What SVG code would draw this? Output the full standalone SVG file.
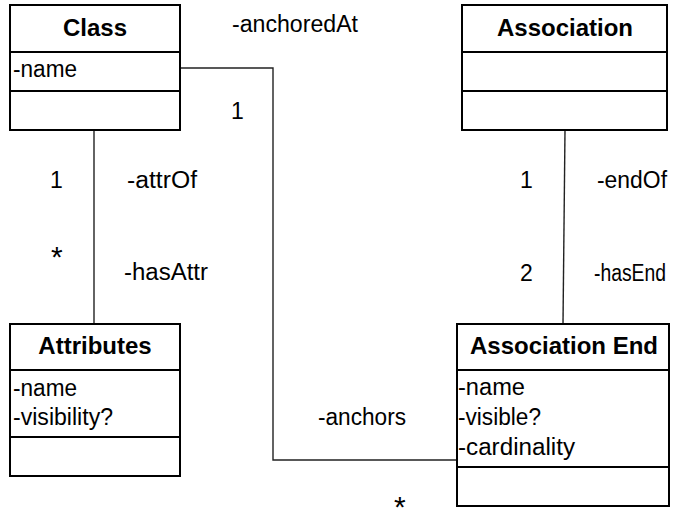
<svg xmlns="http://www.w3.org/2000/svg" width="677" height="508" viewBox="0 0 677 508">
  <style>
    .box { fill: #ffffff; stroke: #000000; stroke-width: 2; }
    .div { stroke: #000000; stroke-width: 2; }
    .title { font-family: "Liberation Sans", Arial, sans-serif; font-weight: bold; font-size: 24px; fill: #000000; text-anchor: middle; }
    .attr { font-family: "Liberation Sans", Arial, sans-serif; font-size: 23px; fill: #000000; }
    .lbl { font-family: "Liberation Sans", Arial, sans-serif; font-size: 23px; fill: #000000; }
    .star { font-family: "Liberation Sans", Arial, sans-serif; font-size: 30px; fill: #000000; }
    .conn { fill: none; stroke: #222222; stroke-width: 1.4; }
  </style>
  <rect width="677" height="508" fill="#ffffff"/>

  <!-- connectors -->
  <g id="connectors">
    <line class="conn" x1="94" y1="130" x2="94" y2="324"/>
    <line class="conn" x1="565" y1="130" x2="563" y2="324"/>
    <polyline class="conn" points="180,68 273,68 273,460 457,460"/>
  </g>

  <!-- association role names and multiplicities -->
  <g id="labels">
    <text class="lbl" x="232" y="32" textLength="126" lengthAdjust="spacingAndGlyphs">-anchoredAt</text>
    <text class="lbl" x="231" y="119">1</text>
    <text class="lbl" x="50" y="188">1</text>
    <text class="lbl" x="127" y="188" textLength="70" lengthAdjust="spacingAndGlyphs">-attrOf</text>
    <text class="star" x="51" y="267">*</text>
    <text class="lbl" x="124" y="280" textLength="84" lengthAdjust="spacingAndGlyphs">-hasAttr</text>
    <text class="lbl" x="520" y="188">1</text>
    <text class="lbl" x="597" y="188" textLength="70" lengthAdjust="spacingAndGlyphs">-endOf</text>
    <text class="lbl" x="520" y="281">2</text>
    <text class="lbl" x="594" y="281" font-size="20.5" textLength="72" lengthAdjust="spacingAndGlyphs">-hasEnd</text>
    <text class="lbl" x="318" y="425" textLength="88" lengthAdjust="spacingAndGlyphs">-anchors</text>
    <text class="star" x="394" y="517">*</text>
  </g>

  <g id="class">
    <rect class="box" x="10" y="5" width="170" height="125"/>
    <line class="div" x1="10" y1="52" x2="180" y2="52"/>
    <line class="div" x1="10" y1="91" x2="180" y2="91"/>
    <text class="title" x="95" y="36">Class</text>
    <text class="attr" x="13" y="77" textLength="64" lengthAdjust="spacingAndGlyphs">-name</text>
  </g>

  <g id="association">
    <rect class="box" x="462" y="5" width="205" height="125"/>
    <line class="div" x1="462" y1="52" x2="667" y2="52"/>
    <line class="div" x1="462" y1="91" x2="667" y2="91"/>
    <text class="title" x="565" y="36">Association</text>
  </g>

  <g id="attributes">
    <rect class="box" x="10" y="324" width="170" height="152"/>
    <line class="div" x1="10" y1="370" x2="180" y2="370"/>
    <line class="div" x1="10" y1="437" x2="180" y2="437"/>
    <text class="title" x="95" y="354">Attributes</text>
    <text class="attr" x="13" y="396" textLength="64" lengthAdjust="spacingAndGlyphs">-name</text>
    <text class="attr" x="13" y="425" textLength="100" lengthAdjust="spacingAndGlyphs">-visibility?</text>
  </g>

  <g id="association-end">
    <rect class="box" x="457" y="324" width="212" height="182"/>
    <line class="div" x1="457" y1="370" x2="669" y2="370"/>
    <line class="div" x1="457" y1="467" x2="669" y2="467"/>
    <text class="title" x="564" y="354">Association End</text>
    <text class="attr" x="458" y="395" textLength="67" lengthAdjust="spacingAndGlyphs">-name</text>
    <text class="attr" x="458" y="425" textLength="83" lengthAdjust="spacingAndGlyphs">-visible?</text>
    <text class="attr" x="458" y="455" textLength="117" lengthAdjust="spacingAndGlyphs">-cardinality</text>
  </g>
</svg>
